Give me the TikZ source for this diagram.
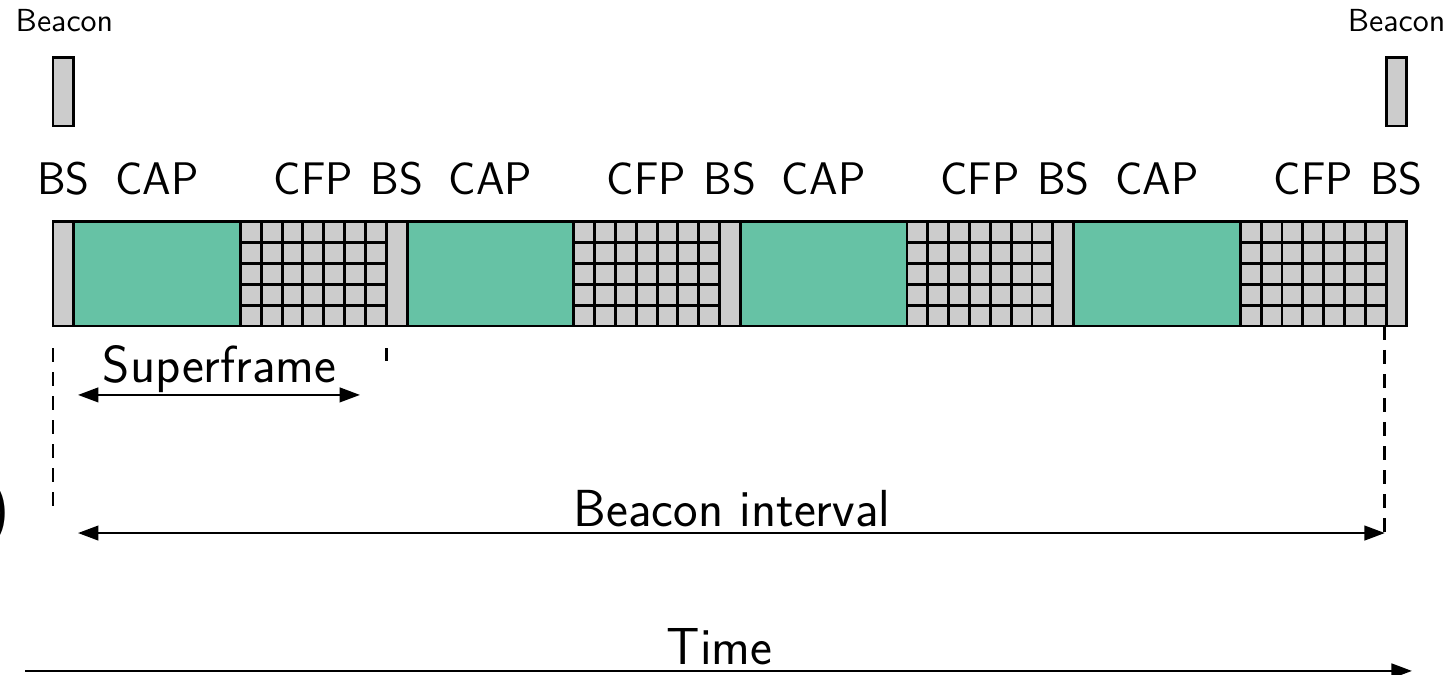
\documentclass[tikz,border=0pt]{standalone}
\usepackage{tikz}
\usepackage{xcolor}
\usetikzlibrary{arrows.meta, positioning}

\definecolor{capgreen}{HTML}{66C2A5}
\definecolor{slotgray}{HTML}{CCCCCC}

\tikzset{
  bsfill/.style={draw, line width=1pt, fill=slotgray},
  capfill/.style={draw, line width=1pt, fill=capgreen},
  seglabel/.style={font=\sffamily\fontsize{15.6}{18}\selectfont, anchor=base, inner sep=0pt},
  spanlabel/.style={font=\sffamily\fontsize{17.8}{21}\selectfont, anchor=base, inner sep=0pt},
  guide/.style={line width=1pt, dash pattern=on 4.8pt off 3.4pt},
  span/.style={thick, {Triangle[length=7pt,width=5pt]}-{Triangle[length=7pt,width=5pt]}}
}

\begin{document}
\begin{tikzpicture}[x=0.25cm,y=0.25cm]
\useasboundingbox (-2.544,-16.755) rectangle (67.02,15.65);

% Beacon markers
\draw[bsfill] (0,9.6) rectangle (1,12.9);
\draw[bsfill] (64,9.6) rectangle (65,12.9);
\node[font=\sffamily\fontsize{10.9}{13}\selectfont, anchor=base, inner sep=0pt] (beacon-l) at (0.55,14.16) {Beacon};
\node[font=\sffamily\fontsize{10.9}{13}\selectfont, anchor=base, inner sep=0pt] (beacon-r) at (64.5,14.16) {Beacon};

% Superframes: BS, CAP, CFP
\foreach \i in {0,...,3}{
  \pgfmathsetmacro{\x}{16*\i}
  \draw[bsfill] (\x,0) rectangle ++(1,5);
  \draw[capfill] (\x+1,0) rectangle ++(8,5);
  \fill[slotgray] (\x+9,0) rectangle ++(7,5);
  \draw[line width=1pt, step=0.25cm] (\x+9,0) grid (\x+16,5);
  \node[seglabel] (bs\i) at (\x+0.5,6.3) {BS};
  \node[seglabel] (cap\i) at (\x+5,6.3) {CAP};
  \node[seglabel] (cfp\i) at (\x+12.5,6.3) {CFP};
}
\draw[bsfill] (64,0) rectangle (65,5);
\node[seglabel] (bs4) at (64.5,6.3) {BS};

% Guides
\coordinate (g1-top) at (0,-1.06);
\coordinate (g1-bot) at (0,-8.83);
\coordinate (g2-top) at (16,-1.06);
\coordinate (g2-bot) at (16,-1.7);
\coordinate (g3-top) at (63.94,0);
\coordinate (g3-bot) at (63.94,-9.9);
\draw[guide] (g1-top) -- (g1-bot);
\draw[guide] (g2-top) -- (g2-bot);
\draw[guide] (g3-top) -- (g3-bot);

% Superframe span
\coordinate (sf-l) at (1.2,-3.31);
\coordinate (sf-r) at (14.74,-3.31);
\draw[span] (sf-l) -- (sf-r);
\node[spanlabel] (sf) at (8.0,-2.69) {Superframe};

% Beacon interval span
\coordinate (bi-l) at (1.2,-9.94);
\coordinate (bi-r) at (63.94,-9.94);
\draw[span] (bi-l) -- (bi-r);
\node[spanlabel] (bi) at (32.6,-9.65) {Beacon interval};

% Time axis
\coordinate (t-l) at (-1.34,-16.56);
\coordinate (t-r) at (65.24,-16.56);
\draw[thick, -{Triangle[length=7pt,width=5pt]}] (t-l) -- (t-r);
\node[spanlabel] (time) at (32.0,-16.27) {Time};

\node[font=\sffamily\huge, anchor=east, inner sep=0pt] (paren) at (-2.06,-9.0) {)};
\end{tikzpicture}
\end{document}
